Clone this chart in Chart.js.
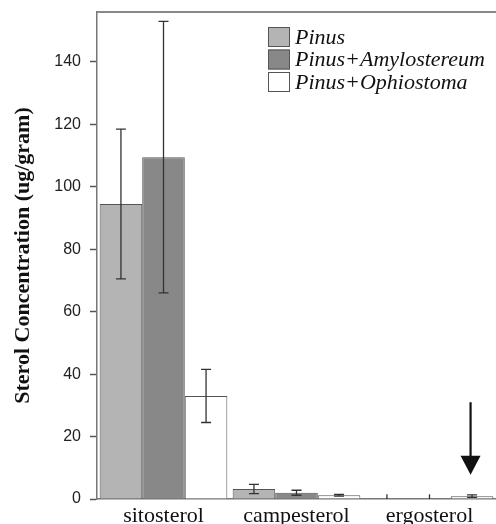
<!DOCTYPE html>
<html>
<head>
<meta charset="utf-8">
<script src="https://cdn.jsdelivr.net/npm/chart.js@4.4.0/dist/chart.umd.min.js"></script>
<style>
html,body{margin:0;padding:0;background:#fff;}
#wrap{width:496px;height:524px;position:relative;}
</style>
</head>
<body>
<div id="wrap"><canvas id="c"></canvas></div>
<script>
const categories = ["sitosterol", "campesterol", "ergosterol"];
const seriesLabels = ["Pinus", "Pinus+Amylostereum", "Pinus+Ophiostoma"];
const pinus = [94.5, 3.2, 0];
const pinusErr = [24, 1.5, 1.5];
const amylostereum = [109.5, 2.0, 0];
const amylostereumErr = [43.5, 0.8, 1.5];
const ophiostoma = [33, 1.2, 0.9];
const ophiostomaErr = [8.5, 0.3, 0.4];
const yTicks = [0, 20, 40, 60, 80, 100, 120, 140];
const yMax = 156;
const arrowFrom = 31, arrowTo = 7.8; // arrow in data units, over ergosterol
const errors = [pinusErr, amylostereumErr, ophiostomaErr];

const errorBarPlugin = {
  id: 'errorBars',
  afterDatasetsDraw(chart) {
    const ctx = chart.ctx, y = chart.scales.y, area = chart.chartArea;
    ctx.save();
    ctx.beginPath();
    ctx.rect(area.left, area.top - 5, area.right - area.left, area.bottom - area.top + 5);
    ctx.clip();
    ctx.strokeStyle = '#333';
    ctx.lineWidth = 1.3;
    chart.data.datasets.forEach((ds, di) => {
      const meta = chart.getDatasetMeta(di);
      meta.data.forEach((bar, i) => {
        const v = ds.data[i], e = errors[di][i];
        const x = bar.x;
        const yt = y.getPixelForValue(v + e), yb = y.getPixelForValue(v - e);
        ctx.beginPath();
        ctx.moveTo(x, yt); ctx.lineTo(x, yb);
        if (v > 0) {
          ctx.moveTo(x - 5, yt); ctx.lineTo(x + 5, yt);
          ctx.moveTo(x - 5, yb); ctx.lineTo(x + 5, yb);
        }
        ctx.stroke();
      });
    });
    ctx.restore();
  }
};

const decorPlugin = {
  id: 'decor',
  afterDraw(chart) {
    const ctx = chart.ctx, area = chart.chartArea, y = chart.scales.y;
    ctx.save();
    // top frame line
    ctx.strokeStyle = '#888';
    ctx.lineWidth = 2;
    ctx.beginPath();
    ctx.moveTo(area.left, area.top); ctx.lineTo(area.right, area.top);
    ctx.stroke();
    // legend
    const lx = area.left + 171, ly = area.top + 15;
    chart.data.datasets.forEach((ds, i) => {
      const by = ly + i * 22.5;
      ctx.fillStyle = ds.backgroundColor;
      ctx.fillRect(lx, by, 22, 20);
      ctx.strokeStyle = '#555';
      ctx.lineWidth = 1;
      ctx.strokeRect(lx + 0.5, by + 0.5, 21, 19);
      ctx.fillStyle = '#111';
      ctx.font = 'italic 22px "Liberation Serif"';
      ctx.textBaseline = 'middle';
      ctx.textAlign = 'left';
      ctx.fillText(ds.label, lx + 27, by + 11);
    });
    // arrow above ergosterol Ophiostoma bar
    const bar = chart.getDatasetMeta(2).data[2];
    const ax = bar.x - 1.5;
    const y0 = y.getPixelForValue(arrowFrom), y1 = y.getPixelForValue(arrowTo);
    ctx.strokeStyle = '#111'; ctx.fillStyle = '#111';
    ctx.lineWidth = 2.2;
    ctx.beginPath(); ctx.moveTo(ax, y0); ctx.lineTo(ax, y1 - 16); ctx.stroke();
    ctx.beginPath();
    ctx.moveTo(ax - 10, y1 - 19); ctx.lineTo(ax + 10, y1 - 19); ctx.lineTo(ax, y1);
    ctx.closePath(); ctx.fill();
    ctx.restore();
  }
};

const colors = ['#b4b4b4', '#888888', '#ffffff'];
const seriesData = [pinus, amylostereum, ophiostoma];

new Chart(document.getElementById('c'), {
  type: 'bar',
  data: {
    labels: categories,
    datasets: seriesData.map((d, i) => ({
      label: seriesLabels[i],
      data: d,
      backgroundColor: colors[i],
      borderColor: '#555',
      borderWidth: 1,
      barPercentage: 1,
      categoryPercentage: 0.96
    }))
  },
  options: {
    responsive: true,
    maintainAspectRatio: false,
    animation: false,
    layout: { padding: { top: 12, right: 0, left: 0, bottom: 0 } },
    plugins: { legend: { display: false }, tooltip: { enabled: false } },
    scales: {
      x: {
        grid: { display: false },
        border: { display: true, color: '#777', width: 1.5 },
        ticks: { color: '#111', font: { family: 'Liberation Serif', size: 22 }, padding: -4, maxRotation: 0 },
        afterFit(s) { s.height = 25; s.paddingLeft = 0; s.paddingRight = 0; }
      },
      y: {
        min: 0, max: yMax,
        afterBuildTicks(s) { s.ticks = yTicks.map(v => ({ value: v })); },
        grid: { display: true, drawOnChartArea: false, tickLength: 7, tickColor: '#555', tickWidth: 1.5 },
        border: { display: true, color: '#777', width: 1.5 },
        ticks: { color: '#222', font: { family: 'Liberation Sans', size: 16 }, padding: 9 },
        title: { display: true, text: 'Sterol Concentration (ug/gram)', color: '#111',
          font: { family: 'Liberation Serif', size: 22, weight: 'bold' }, padding: { top: 10, bottom: 0 } },
        afterFit(s) { s.width = 97; s.paddingTop = 0; s.paddingBottom = 0; }
      }
    }
  },
  plugins: [errorBarPlugin, decorPlugin]
});
</script>
</body>
</html>
